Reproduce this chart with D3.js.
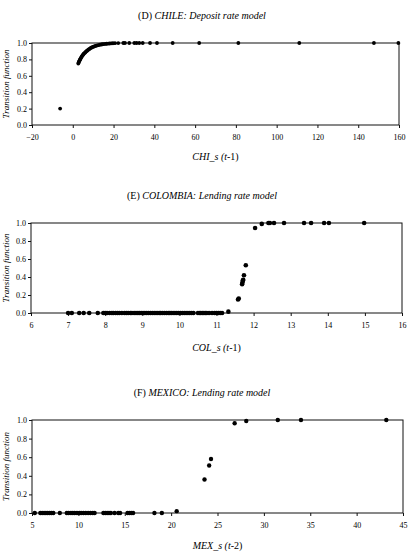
<!DOCTYPE html>
<html>
<head>
<meta charset="utf-8">
<script src="https://d3js.org/d3.v7.min.js"></script>
<style>
  body { margin: 0; background: #fff; }
  text { font-family: "Liberation Serif", "Times New Roman", serif; fill: #000; }
</style>
</head>
<body>
<svg id="viz" width="408" height="557"></svg>
<script>
// ---- data ----
var yTicks = [0, 0.2, 0.4, 0.6, 0.8, 1.0];

// (D) Chile, deposit rate model
var chileTicks = [-20, 0, 20, 40, 60, 80, 100, 120, 140, 160];
var chileX = [-6.2, 2.7, 2.85, 3.0, 3.2, 3.4, 3.6, 3.8, 4.05, 4.3, 4.55, 4.8, 5.05, 5.3, 5.6, 5.9, 6.2, 6.5, 6.85, 7.2, 7.6, 8.0, 8.4, 8.8, 9.25, 9.7, 10.15, 10.6, 11.1, 11.6, 12.15, 12.7, 13.3, 13.9, 14.55, 15.2, 15.9, 16.6, 17.35, 18.1, 18.9, 19.7, 20.7, 22.3, 24.8, 25.6, 27.7, 30.2, 31.3, 32.6, 34.3, 37.9, 41.3, 49.0, 62.0, 81.2, 111.1, 147.7, 159.7];
var chileY = [0.20, 0.75, 0.76, 0.77, 0.78, 0.79, 0.80, 0.81, 0.82, 0.83, 0.84, 0.85, 0.858, 0.867, 0.874, 0.88, 0.888, 0.895, 0.903, 0.91, 0.918, 0.925, 0.932, 0.94, 0.945, 0.95, 0.955, 0.96, 0.964, 0.968, 0.972, 0.975, 0.979, 0.982, 0.985, 0.987, 0.989, 0.991, 0.993, 0.994, 0.996, 0.997, 0.998, 0.999, 1, 1, 1, 1, 1, 1, 1, 1, 1, 1, 1, 1, 1, 1, 1];

// (E) Colombia, lending rate model
var colTicks = [6, 7, 8, 9, 10, 11, 12, 13, 14, 15, 16];
var colX = [7.0, 7.1, 7.3, 7.42, 7.57, 7.8, 7.95, 8.0, 8.05, 8.12, 8.18, 8.22, 8.28, 8.33, 8.38, 8.45, 8.52, 8.57, 8.62, 8.68, 8.72, 8.78, 8.83, 8.88, 8.92, 8.97, 9.02, 9.07, 9.12, 9.17, 9.22, 9.27, 9.32, 9.37, 9.42, 9.47, 9.5, 9.55, 9.6, 9.65, 9.7, 9.74, 9.78, 9.83, 9.88, 9.93, 9.98, 10.03, 10.08, 10.13, 10.18, 10.23, 10.28, 10.33, 10.38, 10.5, 10.55, 10.58, 10.62, 10.66, 10.7, 10.74, 10.8, 10.88, 10.95, 11.0, 11.05, 11.1, 11.15, 11.32, 11.58, 11.6, 11.69, 11.7, 11.71, 11.72, 11.74, 11.79, 12.04, 12.22, 12.4, 12.44, 12.55, 12.82, 13.36, 13.55, 13.9, 14.03, 14.98];
var colY = [0, 0, 0, 0, 0, 0, 0, 0, 0, 0, 0, 0, 0, 0, 0, 0, 0, 0, 0, 0, 0, 0, 0, 0, 0, 0, 0, 0, 0, 0, 0, 0, 0, 0, 0, 0, 0, 0, 0, 0, 0, 0, 0, 0, 0, 0, 0, 0, 0, 0, 0, 0, 0, 0, 0, 0, 0, 0, 0, 0, 0, 0, 0, 0, 0, 0, 0, 0, 0, 0.015, 0.15, 0.16, 0.32, 0.34, 0.36, 0.37, 0.42, 0.53, 0.945, 0.99, 1, 1, 1, 1, 1, 1, 1, 1, 1];

// (F) Mexico, lending rate model
var mexTicks = [5, 10, 15, 20, 25, 30, 35, 40, 45];
var mexX = [5.3, 5.9, 6.1, 6.3, 6.5, 6.7, 6.9, 7.1, 7.3, 8.0, 8.75, 8.95, 9.2, 9.4, 9.6, 9.85, 10.1, 10.3, 10.55, 10.8, 11.05, 11.3, 11.55, 11.75, 12.7, 12.9, 13.1, 13.3, 13.5, 13.9, 14.3, 14.5, 15.3, 15.5, 15.7, 15.9, 18.2, 19.0, 20.6, 23.6, 24.1, 24.3, 26.85, 28.1, 31.5, 34.0, 43.2];
var mexY = [0, 0, 0, 0, 0, 0, 0, 0, 0, 0, 0, 0, 0, 0, 0, 0, 0, 0, 0, 0, 0, 0, 0, 0, 0, 0, 0, 0, 0, 0, 0, 0, 0, 0, 0, 0, 0, 0, 0.02, 0.36, 0.51, 0.58, 0.965, 0.99, 1, 1, 1];

var svg = d3.select("#viz");

function panel(o) {
  var x = d3.scaleLinear().domain(d3.extent(o.ticks)).range([o.left, o.right]);
  var y = d3.scaleLinear().domain([0, 1]).range([o.bottom, o.top]);
  var g = svg.append("g");

  // title
  var t = g.append("text")
    .attr("x", 202).attr("y", o.top - 24)
    .attr("text-anchor", "middle")
    .attr("font-size", 10);
  t.append("tspan").text(o.tag + " ");
  t.append("tspan").attr("font-style", "italic").text(o.title);

  // plot box
  g.append("rect")
    .attr("x", o.left).attr("y", o.top)
    .attr("width", o.right - o.left).attr("height", o.bottom - o.top)
    .attr("fill", "none").attr("stroke", "#111").attr("stroke-width", 1);

  var xa = g.append("g")
    .attr("transform", "translate(0," + o.bottom + ")")
    .call(d3.axisBottom(x).tickValues(o.ticks).tickSize(3).tickSizeOuter(0).tickPadding(6).tickFormat(d3.format("d")));
  var ya = g.append("g")
    .attr("transform", "translate(" + o.left + ",0)")
    .call(d3.axisLeft(y).tickValues(yTicks).tickSize(3).tickSizeOuter(0).tickPadding(2).tickFormat(d3.format(".1f")));
  [xa, ya].forEach(function (a) {
    a.select(".domain").remove();
    a.selectAll("line").attr("stroke", "#111");
    a.selectAll("text").attr("font-size", 8).attr("font-family", "Liberation Serif");
  });

  // y title
  g.append("text")
    .attr("transform", "translate(9," + ((o.top + o.bottom) / 2) + ") rotate(-90)")
    .attr("text-anchor", "middle")
    .attr("font-size", 9)
    .attr("font-style", "italic")
    .text("Transition function");

  // x title
  var xt = g.append("text")
    .attr("x", (o.left + o.right) / 2).attr("y", o.bottom + o.xtitleGap)
    .attr("text-anchor", "middle")
    .attr("font-size", 10);
  xt.append("tspan").attr("font-style", "italic").text(o.xname + " (");
  xt.append("tspan").attr("font-style", "italic").text("t");
  xt.append("tspan").text("-" + o.lag + ")");

  g.selectAll("circle")
    .data(d3.range(o.xs.length)).enter()
    .append("circle")
    .attr("cx", function (i) { return x(o.xs[i]); })
    .attr("cy", function (i) { return y(o.ys[i]); })
    .attr("r", o.r)
    .attr("fill", "#000");
}

panel({ tag: "(D)", title: "CHILE: Deposit rate model", xname: "CHI_s", lag: 1,
  ticks: chileTicks, xs: chileX, ys: chileY,
  left: 32, right: 399, top: 43, bottom: 125, xtitleGap: 35, r: 1.9 });
panel({ tag: "(E)", title: "COLOMBIA: Lending rate model", xname: "COL_s", lag: 1,
  ticks: colTicks, xs: colX, ys: colY,
  left: 31, right: 402, top: 223, bottom: 313, xtitleGap: 38, r: 2.3 });
panel({ tag: "(F)", title: "MEXICO: Lending rate model", xname: "MEX_s", lag: 2,
  ticks: mexTicks, xs: mexX, ys: mexY,
  left: 32, right: 403, top: 420, bottom: 513, xtitleGap: 36, r: 2.2 });
</script>
</body>
</html>
